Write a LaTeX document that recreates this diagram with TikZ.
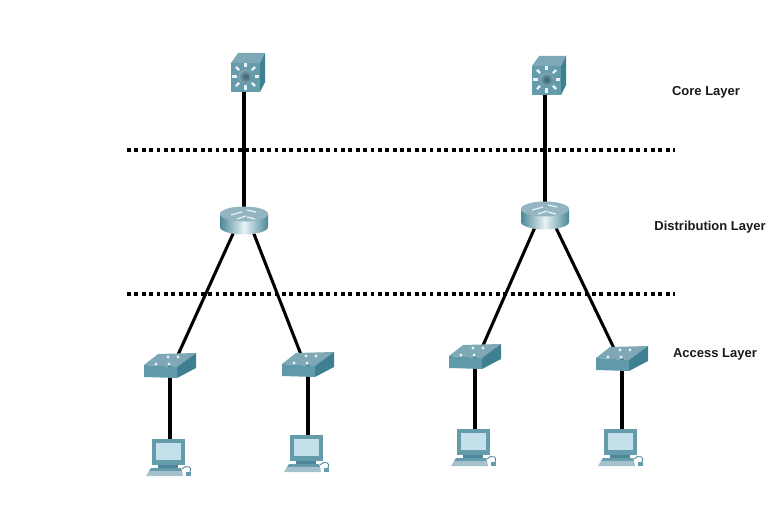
\documentclass[tikz,border=0pt]{standalone}
\usepackage{fontspec}
\setmainfont{Liberation Sans}
\definecolor{ciscofront}{HTML}{649CAC}
\definecolor{ciscotop}{HTML}{7FA8B6}
\definecolor{ciscoside}{HTML}{3F7F92}
\definecolor{ciscodark}{HTML}{4D8799}
\definecolor{ciscopale}{HTML}{C4E0EA}
\definecolor{ciscolight}{HTML}{E6F2F5}
\tikzset{
  linkline/.style={line width=1.75pt,black},
  layerline/.style={line width=1.9pt,black,dash pattern=on 2.2pt off 2pt},
  layerlabel/.style={font=\bfseries\fontsize{7.4}{9}\selectfont,text=black!90,inner sep=0pt},
  anchorpt/.style={inner sep=0pt,minimum size=0pt},
  anchorwide/.style={inner sep=0pt,minimum width=0.12cm,minimum height=0pt},
  coreswitch/.pic={
    \fill[ciscotop] (-13,-12) -- (-6,-22) -- (21,-22) -- (16,-12) -- cycle;
    \fill[ciscoside] (16,-12) -- (21,-22) -- (21,7) -- (16,17) -- cycle;
    \fill[ciscofront] (-13,-12) rectangle (16,17);
    \begin{scope}[shift={(1.5,1.5)}]
      \foreach \ang in {0,45,...,315}
        \draw[line width=1.4pt,ciscolight] (\ang:9) -- (\ang:13.5);
      \shade[inner color=ciscodark!70!black,outer color=ciscotop] (0,0) circle (7);
    \end{scope}
  },
  router/.pic={
    \shade[left color=ciscodark,right color=ciscodark,middle color=ciscolight]
      (-24,-3) -- (-24,10) arc[start angle=180,end angle=0,x radius=24,y radius=7.5] -- (24,-3) -- cycle;
    \fill[ciscotop!85!white] (0,-3) ellipse[x radius=24,y radius=7.5];
    \draw[line width=0.7pt,ciscolight] (-13,-2) -- (-2,-5) (3,-7) -- (12,-5) (-7,2) -- (2,-1) (3,0) -- (11,2);
  },
  accessswitch/.pic={
    \fill[ciscotop] (-26,0) -- (-12,-11) -- (26,-12) -- (7,2) -- cycle;
    \fill[ciscoside] (7,2) -- (26,-12) -- (26,3) -- (7,13) -- cycle;
    \fill[ciscofront!90!ciscoside] (-26,0) -- (7,2) -- (7,13) -- (-26,12) -- cycle;
    \foreach \dotx/\doty in {-14/-1,-2/-8,8/-8,-1/-1}
      \fill[ciscolight] (\dotx,\doty) circle (1.6);
  },
  hostpc/.pic={
    \fill[ciscofront] (-18,-16) -- (15,-16) -- (15,10) -- (-18,10) -- cycle;
    \fill[ciscopale] (-14,-12) rectangle (11,5);
    \fill[ciscodark] (-12,10) rectangle (8,13);
    \fill[ciscofront] (-19,13) -- (11,13) -- (12,16) -- (-21,16) -- cycle;
    \fill[ciscotop!70!white] (-21,16) -- (12,16) -- (13,21) -- (-24,21) -- cycle;
    \draw[line width=0.5pt,ciscodark] (12,14) .. controls (17,9) and (23,12) .. (20,17);
    \fill[ciscofront] (16,17) rectangle (21,21);
  }
}

\begin{document}
\begin{tikzpicture}[x=0.02cm,y=-0.02cm]
  \useasboundingbox (0,0) rectangle (780,526);
  % devices, left
  \node[anchorpt] (coreA) at (244,75) {};
  \node[anchorwide] (distA) at (244,217) {};
  \node[anchorwide] (accA) at (170,365) {};
  \node[anchorwide] (accB) at (308,364) {};
  \node[anchorpt] (pcA) at (170,455) {};
  \node[anchorpt] (pcB) at (308,451) {};
  % devices, right
  \node[anchorpt] (coreB) at (545,78) {};
  \node[anchorwide] (distB) at (545,212) {};
  \node[anchorwide] (accC) at (475,356) {};
  \node[anchorwide] (accD) at (622,358) {};
  \node[anchorpt] (pcC) at (475,445) {};
  \node[anchorpt] (pcD) at (622,445) {};
  % layer borders
  \coordinate (upperL) at (127,150);
  \coordinate (upperR) at (675,150);
  \coordinate (lowerL) at (127,294);
  \coordinate (lowerR) at (675,294);
  \draw[layerline] (upperL)--(upperR);
  \draw[layerline] (lowerL)--(lowerR);
  % links
  \draw[linkline] (coreA)--(distA);
  \draw[linkline] (distA.west)--(accA.east);
  \draw[linkline] (distA.east)--(accB.west);
  \draw[linkline] (accA)--(pcA);
  \draw[linkline] (accB)--(pcB);
  \draw[linkline] (coreB)--(distB);
  \draw[linkline] (distB.west)--(accC.east);
  \draw[linkline] (distB.east)--(accD.west);
  \draw[linkline] (accC)--(pcC);
  \draw[linkline] (accD)--(pcD);
  % icons on top of the links
  \pic at (coreA) {coreswitch};
  \pic at (coreB) {coreswitch};
  \pic at (distA) {router};
  \pic at (distB) {router};
  \foreach \acc in {accA,accB,accC,accD}
    \pic at (\acc) {accessswitch};
  \foreach \pc in {pcA,pcB,pcC,pcD}
    \pic at (\pc) {hostpc};
  % labels
  \node[layerlabel] (corelabel) at (706,92) {Core Layer};
  \node[layerlabel] (distlabel) at (710,227) {Distribution Layer};
  \node[layerlabel] (acclabel) at (715,354) {Access Layer};
\end{tikzpicture}
\end{document}
